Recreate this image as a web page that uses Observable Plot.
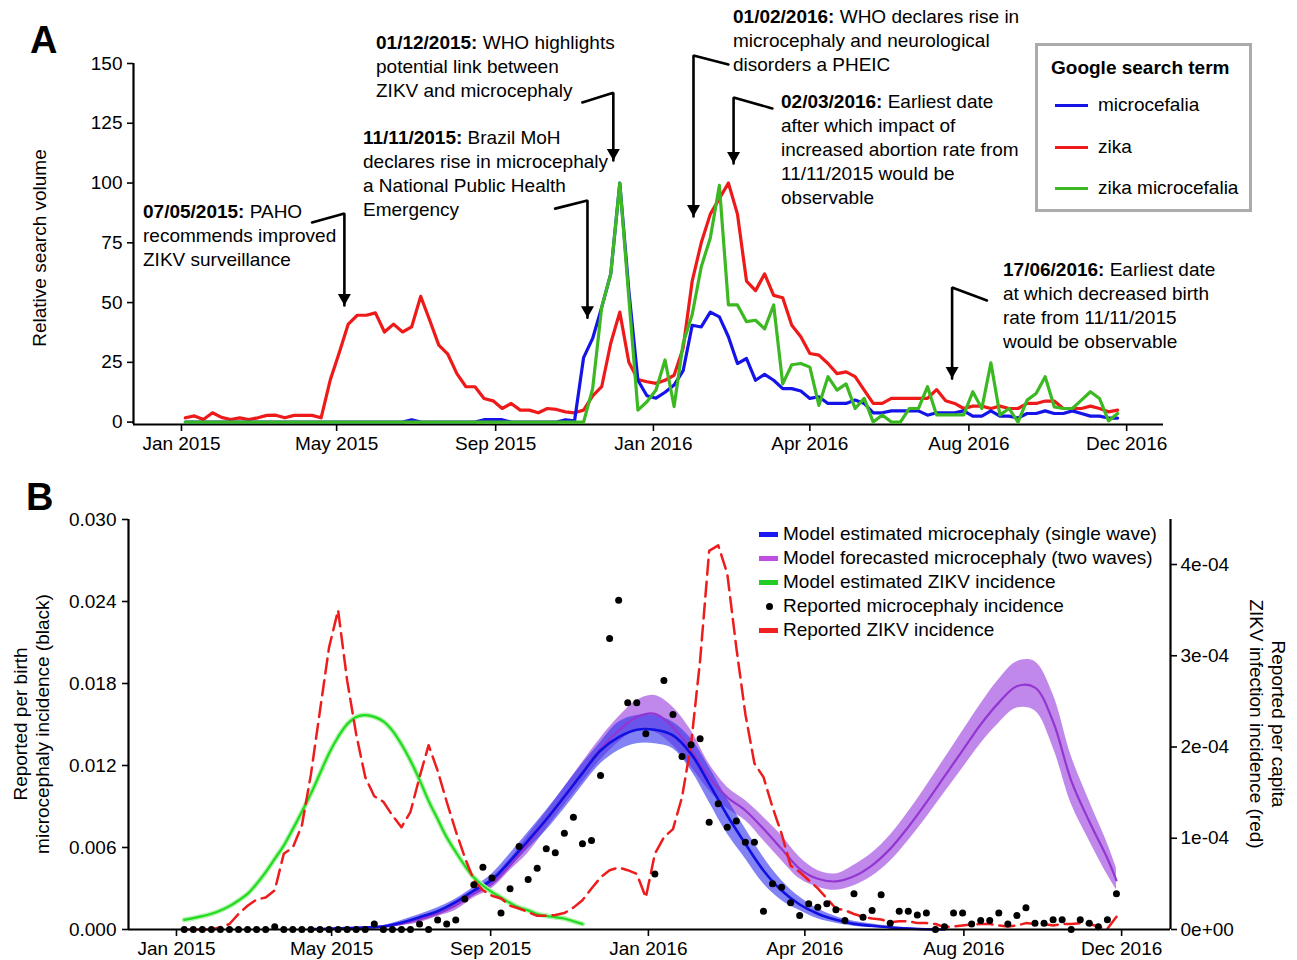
<!DOCTYPE html>
<html>
<head>
<meta charset="utf-8">
<script src="https://cdn.jsdelivr.net/npm/d3@7"></script>
<script src="https://cdn.jsdelivr.net/npm/@observablehq/plot@0.6"></script>
<style>
  body { margin: 0; background: #fff; }
  #wrap { position: relative; width: 1297px; height: 960px; overflow: hidden;
          font-family: "Liberation Sans", Arial, Helvetica, sans-serif; color: #000; }
  .abs { position: absolute; white-space: nowrap; }
  .ann { font-size: 19px; line-height: 24px; }
  .lab { font-size: 19px; line-height: 22px; text-align: center; }
  .panel { font-size: 38px; font-weight: bold; line-height: 38px; }
</style>
</head>
<body>
<div id="wrap"></div>
<script>
// ================= DATA =================
// Panel A: weekly Google Trends relative search volume (weeks starting 2015-01-04)
const searchStart = "2015-01-04";
const searchTerms = ["microcefalia", "zika", "zika microcefalia"];
const microcefalia = [
  0,0,0,0,0,0,0,0,0,0, 0,0,0,0,0,0,0,0,0,0, 0,0,0,0,0,1,0,0,0,0,
  0,0,0,1,1,1,0,0,0,0, 0,0,1,0.5,27,35,48,62,100,55,
  17.5,11,10,12.5,15.5,21.5,40.5,39.8,46,44, 35.7,24.5,26.6,17.5,20,17.5,14,14,13,9.9,
  10.6,7.8,7.8,7.8,9.2,7.8,3.9,3.9,4.7,4.7, 4.7,4.7,2.9,3.9,3.9,3.9,4.7,2.5,2.5,4.7,
  2.5,2.5,1.7,3.6,3.6,4.7,3.6,3.6,4.7,3.6, 2.5,2.5,1.7,1.7
];
const zika = [
  1.8,2.6,1.1,3.9,2.0,1.1,1.8,1.1,1.8,2.8, 2.9,1.8,2.8,2.8,2.8,1.8,17.5,29,41,44.7,
  44.7,45.7,37.7,41,37.7,39.8,52.6,42.6,32.2,28.4, 20.3,14.8,14.8,9.9,8.9,5.7,7.8,5,5,3.9,
  5.7,5.3,4.3,3.9,5,11,14.8,33,46,25, 17.8,16.9,16.2,17.5,19.6,31,59,75,87,93.5,
  100,87,59,55,62,53,52,40.5,35.7,28.7, 28,24.5,20.3,21,19,13.4,7.8,7.8,9.9,9.9,
  9.9,9.9,9.9,13.6,8.9,7.8,5.7,6.7,6.7,5.7, 6.7,5.7,5.7,7.8,7.8,8.8,8.8,5.7,5.7,5.7,
  6.7,5.7,4.3,5
];
const zikaMicrocefalia = [
  0,0,0,0,0,0,0,0,0,0, 0,0,0,0,0,0,0,0,0,0, 0,0,0,0,0,0,0,0,0,0,
  0,0,0,0,0,0,0,0,0,0, 0,0,0,0,0,14,48,62,100,52,
  5,8.5,13.4,26,6.5,33,45,65,77,99, 49,49,42,42.6,39,49,16,24,24.5,23,
  7,19,13.4,16,5.7,9.9,0,3,0,0, 5.7,5.7,14.8,3,3,3,3,12.7,5.7,24.8,
  3,5.7,0,9.2,12,19,6.4,5.7,5.7,9.2, 12.7,9.9,0.5,3.6
];
const yTicksA = [0, 25, 50, 75, 100, 125, 150];

// Shared x tick marks (positions and labels as printed)
const xTickDates = ["2015-01-01","2015-05-01","2015-09-01","2016-01-01","2016-05-01","2016-09-01","2017-01-01"];
const xTickLabels = ["Jan 2015","May 2015","Sep 2015","Jan 2016","Apr 2016","Aug 2016","Dec 2016"];

// Panel B: weekly reported series (weeks from 2015-01-07)
const reportedStart = "2015-01-07";
const microcephalyReported = [
  0,0,0,0,0,0,0,0,0,0, 0.0002,0,0,0,0,0,0,0,0,0,
  0,0.0004,0,0,0,0,0.0004,0,0.0007,0.0004, 0.0007,0.00224,0.00327,0.00456,0.00376,0.0012,0.00298,0.00607,0.00366,0.00449,
  0.0059,0.00561,0.00705,0.00822,0.00627,0.00651,0.01127,0.0213,0.0241,0.01659,
  0.01659,0.01432,0.00407,0.01822,0.01573,0.01266,0.01351,0.01395,0.00785,0.0092,
  0.00749,0.00793,0.00639,0.00639,0.00134,0.00334,0.0031,0.00195,0.00102,0.00188,
  0.00163,0.00188,0.00144,0.00066,0.00261,0.0009,0.00139,0.00254,0.00046,0.00134,
  0.00134,0.00107,0.0012,0,0.0002,0.0012,0.0012,0.0004,0.00066,0.00066,
  0.0012,0.0004,0.00102,0.00159,0.00046,0.00046,0.00071,0.00071,0,0.00071,
  0.00046,0.0002,0.00071,0.00261
];
const zikvReported = [
  0,0,0,0,2.6e-6,6e-6,1.7e-5,2.6e-5,3.3e-5,3.5e-5,
  4.3e-5,8.3e-5,9e-5,1.14e-4,1.7e-4,2.4e-4,3.09e-4,3.5e-4,2.73e-4,2.14e-4,
  1.67e-4,1.46e-4,1.4e-4,1.25e-4,1.12e-4,1.29e-4,1.67e-4,2.02e-4,1.74e-4,1.4e-4,
  1.08e-4,7.9e-5,5.4e-5,4.3e-5,3.7e-5,3.4e-5,2.6e-5,2.3e-5,1.9e-5,1.5e-5,
  1.5e-5,1.6e-5,1.8e-5,2.4e-5,3.2e-5,4.5e-5,5.7e-5,6.5e-5,6.8e-5,6.5e-5,
  6.1e-5,3.5e-5,8.3e-5,1.01e-4,1.1e-4,1.45e-4,2.03e-4,2.95e-4,4.15e-4,4.21e-4,
  3.9e-4,3.09e-4,2.36e-4,1.82e-4,1.67e-4,1.34e-4,1.05e-4,7e-5,6.3e-5,5.4e-5,
  4.5e-5,3.4e-5,2.3e-5,2.1e-5,1.7e-5,1.4e-5,1.2e-5,1.1e-5,8e-6,9e-6,
  9e-6,7e-6,7e-6,6e-6,2.6e-6,3.3e-6,4.4e-6,5.5e-6,6e-6,6e-6,
  4.4e-6,3.3e-6,4.4e-6,7e-6,6e-6,6e-6,4.4e-6,6e-6,6e-6,7e-6,
  6e-6,3.3e-6,1e-6,1.4e-5
];
const zikvModel = [
  1.06e-5,1.24e-5,1.46e-5,1.72e-5,2.08e-5,2.56e-5,3.18e-5,3.9e-5,5e-5,6.28e-5,
  7.74e-5,9.2e-5,1.1e-4,1.29e-4,1.49e-4,1.71e-4,1.93e-4,2.11e-4,2.25e-4,2.33e-4,
  2.35e-4,2.33e-4,2.28e-4,2.18e-4,2.03e-4,1.85e-4,1.64e-4,1.41e-4,1.21e-4,1.01e-4,
  8.5e-5,7e-5,5.7e-5,4.8e-5,4.1e-5,3.5e-5,2.9e-5,2.4e-5,2.1e-5,1.7e-5,
  1.5e-5,1.35e-5,1.2e-5,9e-6,6e-6
];
// Model microcephaly: week indices (from reportedStart) with median and band
const singleWeeks = [14,16,18,20,22,24,26,28,30,32,34,36,38,40,42,44,46,48,50,52,54,56,58,60,62,64,66,68,70,72,74,76,78,80,82,84];
const singleWave = [0.00003,0.00005,0.0001,0.00015,0.00022,0.0005,0.0009,0.00134,0.002,0.00285,0.00363,0.005,0.00651,0.00805,0.00973,0.01144,0.0131,0.01407,0.01461,0.01461,0.0142,0.01285,0.01066,0.00834,0.00627,0.00432,0.00285,0.00183,0.00115,0.00071,0.00041,0.00027,0.00015,0.00007,0.00002,0];
const singleLo = [0,0.00002,0.00005,0.00007,0.00012,0.00037,0.00071,0.0011,0.00176,0.00249,0.00322,0.00456,0.0059,0.00724,0.00883,0.01054,0.01212,0.0131,0.01359,0.01359,0.01322,0.01163,0.00932,0.007,0.00517,0.00334,0.00212,0.00139,0.00078,0.00046,0.00024,0.00012,0.00005,0,0,0];
const singleHi = [0.00005,0.00008,0.00014,0.0002,0.00029,0.00066,0.0011,0.00159,0.00224,0.0031,0.00407,0.00554,0.00712,0.00871,0.01041,0.01212,0.01371,0.01517,0.01566,0.01566,0.01517,0.01395,0.01188,0.00956,0.00737,0.00529,0.00359,0.00237,0.00151,0.00095,0.00061,0.00041,0.00024,0.00012,0.00005,0.00002];
const twoWeeks = [14,16,18,20,22,24,26,28,30,32,34,36,38,40,42,44,46,48,50,52,54,56,58,60,62,64,66,68,70,72,74,76,78,80,82,84,86,88,90,92,94,96,98,100,102,103];
const twoWave = [0.00002,0.00004,0.00008,0.00012,0.0002,0.00041,0.00073,0.00115,0.00176,0.00261,0.00334,0.00468,0.00627,0.00798,0.00968,0.01151,0.01322,0.01456,0.01554,0.01578,0.0148,0.01315,0.01115,0.00968,0.00871,0.00737,0.0059,0.00444,0.00371,0.00352,0.0039,0.0047,0.0059,0.0075,0.0093,0.0112,0.0131,0.015,0.0166,0.0178,0.0177,0.0152,0.0109,0.0079,0.0052,0.0036];
const twoLo = [0,0.00001,0.00004,0.00005,0.0001,0.00029,0.0005,0.00095,0.0014,0.00232,0.003,0.00432,0.0056,0.00737,0.0091,0.01078,0.0124,0.01371,0.01456,0.01444,0.01346,0.01188,0.01017,0.00883,0.00798,0.00651,0.00505,0.00371,0.0031,0.00287,0.0032,0.0039,0.005,0.0065,0.0082,0.01,0.0118,0.0136,0.0151,0.0162,0.016,0.0133,0.0092,0.0065,0.004,0.0029];
const twoHi = [0.00004,0.00007,0.00013,0.00017,0.0003,0.00054,0.00095,0.00134,0.0021,0.0029,0.0038,0.00517,0.0069,0.00859,0.0104,0.01224,0.014,0.01554,0.01676,0.01712,0.01627,0.01456,0.01212,0.01041,0.00944,0.00822,0.00688,0.00529,0.00432,0.00407,0.0047,0.0056,0.0069,0.0086,0.0105,0.0125,0.0145,0.0165,0.0183,0.0196,0.0196,0.0172,0.0127,0.0094,0.0063,0.0045];
const yTicksB = [0, 0.006, 0.012, 0.018, 0.024, 0.030];
const rightTicks = [0, 1e-4, 2e-4, 3e-4, 4e-4];
const rightTickLabels = ["0e+00", "1e-04", "2e-04", "3e-04", "4e-04"];

// ================= HELPERS =================
const FONT = '"Liberation Sans", Arial, Helvetica, sans-serif';
const DAY = 864e5;
const parse = s => new Date(s + "T00:00:00Z");
const weekDate = (start, i) => new Date(parse(start).getTime() + i * 7 * DAY);
const jan1 = parse("2015-01-01").getTime();
const dayOff = n => new Date(jan1 + n * DAY);
const tickDates = xTickDates.map(parse);
const tickLabel = new Map(tickDates.map((d, i) => [+d, xTickLabels[i]]));
const fmtTick = d => tickLabel.get(+d) ?? "";

// right axis (per-capita) mapped onto left axis units
const kB = 0.03 / 4.4932e-4;

const wrap = document.getElementById("wrap");
function addDiv(cls, left, top, html, extra) {
  const d = document.createElement("div");
  d.className = "abs " + cls;
  d.style.left = left + "px"; d.style.top = top + "px";
  d.innerHTML = html;
  if (extra) Object.assign(d.style, extra);
  wrap.appendChild(d);
  return d;
}

// downward filled triangle with its tip at the anchor point
const arrowHead = {
  draw(ctx) { ctx.moveTo(0, 0); ctx.lineTo(-6.5, -11.5); ctx.lineTo(6.5, -11.5); ctx.closePath(); }
};

// ================= PANEL A =================
const colA = { microcefalia: "#1414e8", zika: "#ee1a1a", "zika microcefalia": "#3cb822" };
const seriesA = { microcefalia, zika, "zika microcefalia": zikaMicrocefalia };
const rowsA = term => seriesA[term].map((v, i) => ({ date: weekDate(searchStart, i), value: v, term }));

const xDomA = [dayOff(-37.1), dayOff(759.5)];

// annotation arrow geometry (layout, in data coordinates)
const arrowsA = [
  { id: 1, pts: [[parse("2015-04-12"), 83.5], [parse("2015-05-07"), 87.3], [parse("2015-05-07"), 48.8]] },
  { id: 2, pts: [[parse("2015-10-17"), 89.3], [parse("2015-11-11"), 92.7], [parse("2015-11-11"), 43.7]] },
  { id: 3, pts: [[parse("2015-11-07"), 133.7], [parse("2015-12-01"), 137.8], [parse("2015-12-01"), 109.4]] },
  { id: 4, pts: [[parse("2016-02-28"), 149.6], [parse("2016-02-01"), 153.3], [parse("2016-02-01"), 86.0]] },
  { id: 5, pts: [[parse("2016-04-02"), 131.2], [parse("2016-03-03"), 135.8], [parse("2016-03-03"), 108.2]] },
  { id: 6, pts: [[parse("2016-09-15"), 50.9], [parse("2016-08-19"), 56.3], [parse("2016-08-19"), 18.2]] }
];
const arrowPts = arrowsA.flatMap(a => a.pts.map(p => ({ id: a.id, x: p[0], y: p[1] })));
const arrowTips = arrowsA.map(a => ({ x: a.pts[2][0], y: a.pts[2][1] }));

const plotA = Plot.plot({
  width: 1297, height: 460,
  marginLeft: 133, marginRight: 134, marginTop: 63, marginBottom: 36,
  x: { type: "utc", domain: xDomA },
  y: { domain: [-1, 150] },
  style: { fontFamily: FONT, fontSize: "19px", color: "#000", background: "transparent", overflow: "visible" },
  marks: [
    Plot.ruleX([xDomA[0]], { y1: -1, y2: 150, stroke: "#000", strokeWidth: 2.2 }),
    Plot.ruleY([-1], { x1: xDomA[0], x2: xDomA[1], stroke: "#000", strokeWidth: 2.2 }),
    Plot.axisY({ ticks: yTicksA, tickSize: 6, tickPadding: 5, strokeWidth: 1.6, label: null, fontSize: 19 }),
    Plot.axisX({ ticks: tickDates, tickFormat: fmtTick, tickSize: 7, tickPadding: 5, strokeWidth: 1.6, label: null, fontSize: 19 }),
    Plot.line(rowsA("zika"), { x: "date", y: "value", stroke: colA.zika, strokeWidth: 3.2 }),
    Plot.line(rowsA("microcefalia"), { x: "date", y: "value", stroke: colA.microcefalia, strokeWidth: 3.2 }),
    Plot.line(rowsA("zika microcefalia"), { x: "date", y: "value", stroke: colA["zika microcefalia"], strokeWidth: 3.2 }),
    Plot.line(arrowPts, { x: "x", y: "y", z: "id", stroke: "#000", strokeWidth: 2.6, strokeLinejoin: "miter" }),
    Plot.dot(arrowTips, { x: "x", y: "y", symbol: arrowHead, fill: "#000", stroke: "none" })
  ]
});
plotA.style.position = "absolute"; plotA.style.left = "0px"; plotA.style.top = "0px";
wrap.appendChild(plotA);

// ================= PANEL B =================
const xDomB = [dayOff(-37.1), dayOff(768.8)];
const dotsB = microcephalyReported.map((v, i) => ({ date: weekDate(reportedStart, i), v }));
const redB = zikvReported.map((r, i) => ({ date: weekDate(reportedStart, i), r }));
const greenB = zikvModel.map((r, i) => ({ date: weekDate(reportedStart, i), r }));
const singleB = singleWeeks.map((w, i) => ({ date: weekDate(reportedStart, w), m: singleWave[i], lo: singleLo[i], hi: singleHi[i] }));
const twoB = twoWeeks.map((w, i) => ({ date: weekDate(reportedStart, w), m: twoWave[i], lo: twoLo[i], hi: twoHi[i] }));
const rLab = new Map(rightTicks.map((t, i) => [t * kB, rightTickLabels[i]]));

const plotB = Plot.plot({
  width: 1297, height: 490,
  marginLeft: 128, marginRight: 127, marginTop: 49, marginBottom: 31,
  x: { type: "utc", domain: xDomB },
  y: { domain: [0, 0.03] },
  style: { fontFamily: FONT, fontSize: "19px", color: "#000", background: "transparent", overflow: "visible" },
  marks: [
    Plot.areaY(twoB, { x: "date", y1: "lo", y2: "hi", fill: "#a24fe0", fillOpacity: 0.68, curve: "catmull-rom" }),
    Plot.areaY(singleB, { x: "date", y1: "lo", y2: "hi", fill: "#3535ee", fillOpacity: 0.62, curve: "catmull-rom" }),
    Plot.line(twoB, { x: "date", y: "m", stroke: "#9436d2", strokeWidth: 2.2, curve: "catmull-rom" }),
    Plot.line(singleB, { x: "date", y: "m", stroke: "#1010e0", strokeWidth: 2.6, curve: "catmull-rom" }),
    Plot.line(greenB, { x: "date", y: d => d.r * kB, stroke: "#b4f0ae", strokeWidth: 5, curve: "catmull-rom" }),
    Plot.line(greenB, { x: "date", y: d => d.r * kB, stroke: "#1fdc1f", strokeWidth: 2.2, curve: "catmull-rom" }),
    Plot.line(redB, { x: "date", y: d => d.r * kB, stroke: "#ee1c1c", strokeWidth: 2.5, strokeDasharray: "15,7" }),
    Plot.dot(dotsB, { x: "date", y: "v", r: 3.5, fill: "#000", stroke: "none" }),
    Plot.ruleX([xDomB[0]], { y1: 0, y2: 0.03, stroke: "#000", strokeWidth: 2.2 }),
    Plot.ruleX([xDomB[1]], { y1: 0, y2: 0.03, stroke: "#000", strokeWidth: 2.2 }),
    Plot.ruleY([0], { x1: xDomB[0], x2: xDomB[1], stroke: "#000", strokeWidth: 2.2 }),
    Plot.axisY({ ticks: yTicksB, tickFormat: d3.format(".3f"), tickSize: 6, tickPadding: 6, strokeWidth: 1.6, label: null, fontSize: 19 }),
    Plot.axisY({ anchor: "right", ticks: rightTicks.map(t => t * kB), tickFormat: d => rLab.get(d) ?? "", tickSize: 6, tickPadding: 4, strokeWidth: 1.6, label: null, fontSize: 19 }),
    Plot.axisX({ ticks: tickDates, tickFormat: fmtTick, tickSize: 7, tickPadding: 5, strokeWidth: 1.6, label: null, fontSize: 19 })
  ]
});
plotB.style.position = "absolute"; plotB.style.left = "0px"; plotB.style.top = "470px";
wrap.appendChild(plotB);

// ================= TEXT OVERLAYS =================
addDiv("panel", 30, 21, "A");
addDiv("panel", 26, 478, "B");

// Panel A axis title
addDiv("lab", 40, 248, "Relative search volume", { transform: "translate(-50%,-50%) rotate(-90deg)" });

// Panel A annotations
addDiv("ann", 143, 200, "<b>07/05/2015:</b> PAHO<br>recommends improved<br>ZIKV surveillance");
addDiv("ann", 363, 126, "<b>11/11/2015:</b> Brazil MoH<br>declares rise in microcephaly<br>a National Public Health<br>Emergency");
addDiv("ann", 376, 31, "<b>01/12/2015:</b> WHO highlights<br>potential link between<br>ZIKV and microcephaly");
addDiv("ann", 733, 5, "<b>01/02/2016:</b> WHO declares rise in<br>microcephaly and neurological<br>disorders a PHEIC");
addDiv("ann", 781, 90, "<b>02/03/2016:</b> Earliest date<br>after which impact of<br>increased abortion rate from<br>11/11/2015 would be<br>observable");
addDiv("ann", 1003, 258, "<b>17/06/2016:</b> Earliest date<br>at which decreased birth<br>rate from 11/11/2015<br>would be observable");

// Panel A legend
addDiv("", 1035, 43, "", { width: "211px", height: "163px", border: "3px solid #ababab", background: "#fff" });
addDiv("ann", 1051, 56, "<b>Google search term</b>");
const legRowsA = [105, 147, 188];
searchTerms.forEach((t, i) => {
  addDiv("", 1055, legRowsA[i] - 1.5, "", { width: "33px", height: "3px", background: colA[t] });
  addDiv("ann", 1098, legRowsA[i] - 12, t);
});

// Panel B axis titles
addDiv("lab", 32, 724, "Reported per birth<br>microcephaly incidence (black)", { transform: "translate(-50%,-50%) rotate(-90deg)" });
addDiv("lab", 1267, 724, "Reported per capita<br>ZIKV infection incidence (red)", { transform: "translate(-50%,-50%) rotate(90deg)" });

// Panel B legend
const legB = [
  { label: "Model estimated microcephaly (single wave)", kind: "bar", color: "#1a1af0" },
  { label: "Model forecasted microcephaly (two waves)", kind: "bar", color: "#c04ee0" },
  { label: "Model estimated ZIKV incidence", kind: "bar", color: "#22cc22" },
  { label: "Reported microcephaly incidence", kind: "dot", color: "#000" },
  { label: "Reported ZIKV incidence", kind: "bar", color: "#ee2020" }
];
const legRowsB = [534, 558, 582, 606, 630];
legB.forEach((e, i) => {
  const y = legRowsB[i];
  if (e.kind === "bar") addDiv("", 759, y - 2.5, "", { width: "19px", height: "5px", background: e.color });
  else addDiv("", 765.5, y - 3.5, "", { width: "7px", height: "7px", borderRadius: "50%", background: e.color });
  addDiv("ann", 783, y - 12, e.label);
});
</script>
</body>
</html>
